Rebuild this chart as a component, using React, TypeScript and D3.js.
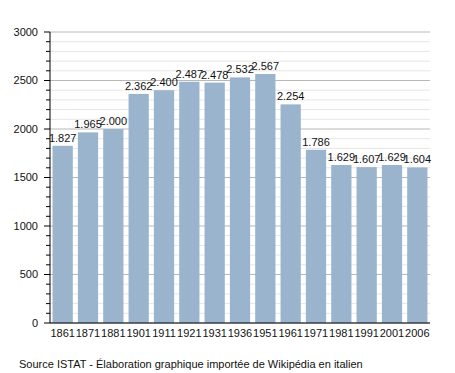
import * as d3 from 'd3';

const years = ['1861', '1871', '1881', '1901', '1911', '1921', '1931', '1936', '1951', '1961', '1971', '1981', '1991', '2001', '2006'];
const population = [1827, 1965, 2000, 2362, 2400, 2487, 2478, 2532, 2567, 2254, 1786, 1629, 1607, 1629, 1604];
const yTicks = [0, 500, 1000, 1500, 2000, 2500, 3000];

const W = 455;
const H = 373;
const margin = { top: 32, right: 25, bottom: 50, left: 50 };
const innerW = W - margin.left - margin.right;
const innerH = H - margin.top - margin.bottom;
const font = '"Liberation Sans", Arial, sans-serif';

export default function App() {
  const x = d3.scaleBand().domain(years).range([0, innerW]).paddingInner(0.2).paddingOuter(0.1);
  const y = d3.scaleLinear().domain([0, 3000]).range([innerH, 0]);
  const minor = d3.range(0, 3001, 100);
  const fmt = (v: number) => d3.format(',')(v).replace(',', '.');

  return (
    <svg width={W} height={H} style={{ position: 'absolute', left: 0, top: 0, background: '#fff' }} fontFamily={font}>
      <g transform={`translate(${margin.left},${margin.top})`}>
        {minor.map(v => (
          <line key={'g' + v} x1={0} x2={innerW} y1={y(v)} y2={y(v)}
            stroke={v % 500 === 0 ? '#b8b8b8' : '#e6e6e6'} strokeWidth={1} />
        ))}
        {population.map((v, i) => (
          <rect key={years[i]} x={x(years[i])!} y={y(v)} width={x.bandwidth()} height={innerH - y(v)} fill="#9bb4cd" />
        ))}
        {population.map((v, i) => (
          <text key={'l' + years[i]} x={x(years[i])! + x.bandwidth() / 2} y={y(v) - 4}
            textAnchor="middle" fontSize={11} fill="#111">{fmt(v)}</text>
        ))}
        <line x1={0} x2={0} y1={0} y2={innerH} stroke="#000" />
        <line x1={0} x2={innerW} y1={innerH} y2={innerH} stroke="#000" />
        {minor.map(v => (
          <line key={'t' + v} x1={v % 500 === 0 ? -6 : -4} x2={0} y1={y(v)} y2={y(v)} stroke="#000" />
        ))}
        {yTicks.map(v => (
          <text key={'y' + v} x={-12} y={y(v)} dy="0.35em" textAnchor="end" fontSize={11} fill="#111">{v}</text>
        ))}
        {years.map(yr => (
          <text key={'x' + yr} x={x(yr)! + x.bandwidth() / 2} y={innerH + 14} textAnchor="middle" fontSize={11} fill="#111">{yr}</text>
        ))}
      </g>
      <text x={19} y={368} fontSize={11} fill="#111">Source ISTAT - Élaboration graphique importée de Wikipédia en italien</text>
    </svg>
  );
}
